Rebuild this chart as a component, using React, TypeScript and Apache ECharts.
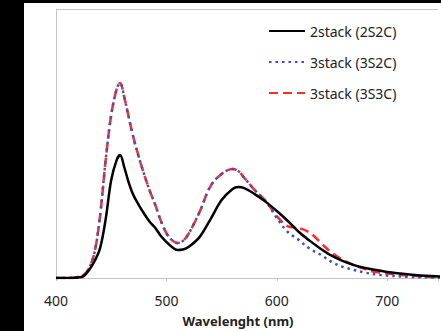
import React, { useEffect, useRef } from "react";
import * as echarts from "echarts";

const wavelengths = [400, 410, 420, 425, 430, 435, 440, 445, 450, 455, 458, 462, 466, 470, 475, 480, 485, 490, 495, 500, 505, 510, 515, 520, 530, 540, 550, 560, 565, 570, 580, 590, 600, 610, 620, 630, 640, 650, 660, 670, 680, 690, 700, 720, 740, 760];

const s2S2C = [0, 0, 0.002, 0.007, 0.03, 0.063, 0.112, 0.219, 0.364, 0.439, 0.457, 0.409, 0.353, 0.309, 0.271, 0.238, 0.208, 0.186, 0.156, 0.134, 0.115, 0.104, 0.106, 0.115, 0.152, 0.219, 0.29, 0.331, 0.338, 0.335, 0.312, 0.283, 0.249, 0.212, 0.171, 0.138, 0.108, 0.082, 0.063, 0.048, 0.037, 0.03, 0.022, 0.013, 0.007, 0.004];

const s3S2C = [0, 0, 0.004, 0.011, 0.037, 0.097, 0.234, 0.439, 0.606, 0.703, 0.725, 0.669, 0.595, 0.524, 0.45, 0.383, 0.323, 0.271, 0.212, 0.167, 0.141, 0.13, 0.138, 0.164, 0.245, 0.342, 0.387, 0.405, 0.398, 0.375, 0.327, 0.286, 0.223, 0.171, 0.141, 0.108, 0.086, 0.059, 0.041, 0.03, 0.02, 0.013, 0.009, 0.004, 0.002, 0];

const s3S3C = [0, 0, 0.004, 0.011, 0.037, 0.097, 0.234, 0.439, 0.606, 0.703, 0.725, 0.669, 0.595, 0.524, 0.45, 0.383, 0.323, 0.271, 0.212, 0.167, 0.141, 0.13, 0.138, 0.164, 0.245, 0.342, 0.387, 0.405, 0.398, 0.375, 0.327, 0.286, 0.23, 0.192, 0.186, 0.168, 0.13, 0.093, 0.067, 0.048, 0.033, 0.022, 0.017, 0.009, 0.004, 0.002];

const seriesNames = ["2stack (2S2C)", "3stack (3S2C)", "3stack (3S3C)"];
const xTicks = [400, 500, 600, 700];

const pairs = (vals: number[]) => wavelengths.map((w, i) => [w, vals[i]]);

export default function App() {
  const ref = useRef<HTMLDivElement>(null);
  useEffect(() => {
    if (!ref.current) return;
    const chart = echarts.init(ref.current, null, { renderer: "svg" });
    const font = "'Noto Sans', sans-serif";
    chart.setOption({
      animation: false,
      backgroundColor: "#ffffff",
      grid: { left: 32, right: 0, top: 6, bottom: 53 },
      legend: {
        orient: "vertical",
        left: 239,
        top: 16,
        itemWidth: 36,
        itemHeight: 12,
        itemGap: 17,
        data: seriesNames,
        itemStyle: { opacity: 0 },
        textStyle: { fontFamily: font, fontSize: 14, color: "#222" },
      },
      xAxis: {
        type: "value",
        min: 400,
        max: 746,
        interval: 100,
        axisLine: { lineStyle: { color: "#c4c4c4", width: 1 } },
        axisTick: { show: true, length: 3, lineStyle: { color: "#c4c4c4" } },
        splitLine: { show: false },
        axisLabel: {
          margin: 15,
          fontFamily: font,
          fontSize: 14,
          color: "#222",
          formatter: (v: number) => (xTicks.includes(v) ? String(v) : ""),
        },
      },
      yAxis: {
        type: "value",
        min: 0,
        max: 1,
        interval: 1,
        axisLine: { show: true, lineStyle: { color: "#c4c4c4", width: 1 } },
        axisTick: { show: false },
        axisLabel: { show: false },
        splitLine: { show: true, lineStyle: { color: "#c4c4c4", width: 1 } },
      },
      graphic: [
        {
          type: "text",
          left: 212.5 - 54,
          top: 311,
          style: {
            text: "Wavelenght (nm)",
            font: "bold 13px 'Noto Sans', sans-serif",
            fill: "#222",
          },
        },
      ],
      series: [
        {
          name: seriesNames[0],
          type: "line",
          data: pairs(s2S2C),
          smooth: 0.35,
          showSymbol: false,
          symbol: "none",
          z: 4,
          lineStyle: { color: "#000000", width: 2.5 },
          itemStyle: { color: "#000000" },
        },
        {
          name: seriesNames[1],
          type: "line",
          data: pairs(s3S2C),
          smooth: 0.35,
          showSymbol: false,
          symbol: "none",
          z: 3,
          lineStyle: { color: "#3f4fc4", width: 2.5, type: [2.5, 4] },
          itemStyle: { color: "#3f4fc4" },
        },
        {
          name: seriesNames[2],
          type: "line",
          data: pairs(s3S3C),
          smooth: 0.35,
          showSymbol: false,
          symbol: "none",
          z: 2,
          lineStyle: { color: "#ff2a2a", width: 2.5, type: [9, 5] },
          itemStyle: { color: "#ff2a2a" },
        },
      ],
    });
    return () => chart.dispose();
  }, []);
  return (
    <div style={{ position: "fixed", left: 0, top: 0, width: 441, height: 331, background: "#000" }}>
      <div ref={ref} style={{ position: "absolute", left: 24, top: 3, width: 417, height: 328 }} />
    </div>
  );
}
